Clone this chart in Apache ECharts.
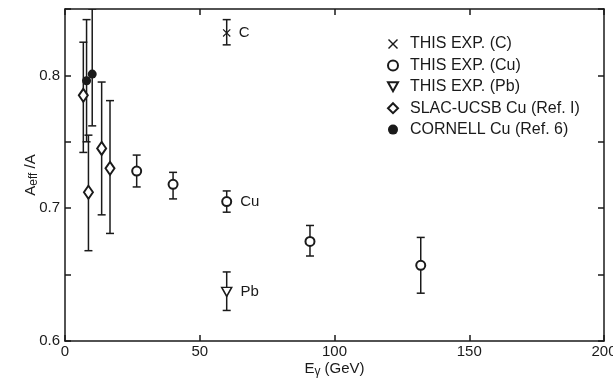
<!DOCTYPE html>
<html>
<head>
<meta charset="utf-8">
<script src="https://cdn.jsdelivr.net/npm/echarts@6/dist/echarts.min.js"></script>
<style>
  html, body { margin: 0; padding: 0; background: #fff; }
  #chart { width: 613px; height: 385px; }
</style>
</head>
<body>
<div id="chart"></div>
<script>
// THIS EXP. (C)
const cX = [60];
const cY = [0.832];
const cLo = [0.823];
const cHi = [0.842];

// THIS EXP. (Cu)
const cuX = [26.6, 40.1, 60, 90.9, 132];
const cuY = [0.728, 0.718, 0.705, 0.675, 0.657];
const cuLo = [0.716, 0.707, 0.697, 0.664, 0.636];
const cuHi = [0.740, 0.727, 0.713, 0.687, 0.678];

// THIS EXP. (Pb)
const pbX = [60];
const pbY = [0.637];
const pbLo = [0.623];
const pbHi = [0.652];

// SLAC-UCSB Cu (Ref. 1)
const slacX = [6.8, 8.7, 13.6, 16.7];
const slacY = [0.785, 0.712, 0.745, 0.730];
const slacLo = [0.742, 0.668, 0.695, 0.681];
const slacHi = [0.825, 0.755, 0.795, 0.781];

// CORNELL Cu (Ref. 6)
const cornX = [8.0, 10.1];
const cornY = [0.796, 0.801];
const cornLo = [0.750, 0.762];
const cornHi = [0.842, 0.850];

const xTicks = [0, 50, 100, 150, 200];
const yTicks = [0.6, 0.7, 0.8];

const font = '"Liberation Sans", Arial, sans-serif';
const ink = '#1a1a1a';

function pts(xs, ys) { return xs.map((x, i) => [x, ys[i]]); }
function bars(xs, lo, hi) { return xs.map((x, i) => [x, lo[i], hi[i]]); }

const errData = [].concat(
  bars(cX, cLo, cHi), bars(cuX, cuLo, cuHi), bars(pbX, pbLo, pbHi),
  bars(slacX, slacLo, slacHi), bars(cornX, cornLo, cornHi)
);

function renderErr(params, api) {
  const x = api.value(0);
  const a = api.coord([x, api.value(1)]);
  const b = api.coord([x, api.value(2)]);
  const w = 4;
  const st = { stroke: ink, lineWidth: 1.5 };
  return {
    type: 'group',
    children: [
      { type: 'line', shape: { x1: a[0], y1: a[1], x2: b[0], y2: b[1] }, style: st },
      { type: 'line', shape: { x1: a[0] - w, y1: a[1], x2: a[0] + w, y2: a[1] }, style: st },
      { type: 'line', shape: { x1: b[0] - w, y1: b[1], x2: b[0] + w, y2: b[1] }, style: st }
    ]
  };
}

const labelStyle = { show: true, position: 'right', distance: 8, color: ink, fontSize: 15, fontFamily: font };

const crossPath = 'path://M0,1L1,0L5,4L9,0L10,1L6,5L10,9L9,10L5,6L1,10L0,9L4,5Z';
const triPath = 'path://M0,0L10,0L5,9Z';

const cData = pts(cX, cY).map(v => ({ value: v, label: Object.assign({}, labelStyle, { formatter: 'C' }) }));
const cuData = pts(cuX, cuY).map((v, i) => i === 2
  ? { value: v, label: Object.assign({}, labelStyle, { formatter: 'Cu' }) } : v);
const pbData = pts(pbX, pbY).map(v => ({ value: v, label: Object.assign({}, labelStyle, { formatter: 'Pb' }) }));

function axisBits() {
  return {
    axisLine: { show: true, onZero: false, lineStyle: { color: ink, width: 1.5 } },
    axisTick: { show: true, inside: true, length: 6, lineStyle: { color: ink, width: 1.5 } },
    splitLine: { show: false }
  };
}

const chart = echarts.init(document.getElementById('chart'));
chart.setOption({
  animation: false,
  backgroundColor: '#fff',
  grid: { left: 65, right: 9, top: 9, bottom: 44, outerBoundsMode: 'none', containLabel: false },
  legend: {
    orient: 'vertical',
    left: 387,
    top: 36,
    padding: 0,
    itemWidth: 10,
    itemHeight: 10,
    itemGap: 5.4,
    textStyle: { color: ink, fontSize: 16, fontFamily: font, padding: [0, 0, 0, 7] },
    data: ['THIS EXP. (C)', 'THIS EXP. (Cu)', 'THIS EXP. (Pb)', 'SLAC-UCSB Cu (Ref. I)', 'CORNELL Cu (Ref. 6)']
  },
  xAxis: [
    Object.assign(axisBits(), {
      type: 'value', min: 0, max: 200, interval: 50, position: 'bottom',
      name: '{a|E}{s|γ}{a| (GeV)}', nameLocation: 'middle', nameGap: 19, nameMoveOverlap: false,
      nameTextStyle: {
        rich: {
          a: { fontSize: 15, fontFamily: font, color: ink },
          s: { fontSize: 12, fontFamily: font, color: ink, padding: [6, 0, 0, 0] }
        }
      },
      axisLabel: {
        color: ink, fontSize: 15, fontFamily: font, margin: 3,
        formatter: v => xTicks.indexOf(v) >= 0 ? String(v) : ''
      }
    }),
    Object.assign(axisBits(), {
      type: 'value', min: 0, max: 200, interval: 50, position: 'top',
      axisLabel: { show: false }
    })
  ],
  yAxis: [
    Object.assign(axisBits(), {
      type: 'value', min: 0.6, max: 0.85, interval: 0.05, position: 'left',
      name: '{a|A}{s|eff}{a| /A}', nameLocation: 'middle', nameGap: 25, nameRotate: 90,
      nameMoveOverlap: false,
      nameTextStyle: {
        rich: {
          a: { fontSize: 15, fontFamily: font, color: ink },
          s: { fontSize: 12, fontFamily: font, color: ink, padding: [6, 0, 0, 0] }
        }
      },
      axisLabel: {
        color: ink, fontSize: 15, fontFamily: font, margin: 5,
        formatter: v => {
          const r = Math.round(v * 100) / 100;
          return yTicks.some(t => Math.abs(t - r) < 1e-6) ? r.toFixed(1) : '';
        }
      }
    }),
    Object.assign(axisBits(), {
      type: 'value', min: 0.6, max: 0.85, interval: 0.05, position: 'right',
      axisLabel: { show: false }
    })
  ],
  series: [
    {
      type: 'custom', name: 'err', renderItem: renderErr, data: errData,
      clip: true, z: 1, encode: { x: 0, y: [1, 2] }
    },
    {
      type: 'scatter', name: 'THIS EXP. (C)', data: cData, z: 3,
      symbol: crossPath, symbolSize: 8, itemStyle: { color: ink, opacity: 1 }
    },
    {
      type: 'scatter', name: 'THIS EXP. (Cu)', data: cuData, z: 3,
      symbol: 'emptyCircle', symbolSize: 9,
      itemStyle: { color: ink, borderWidth: 1.5, opacity: 1 }
    },
    {
      type: 'scatter', name: 'THIS EXP. (Pb)', data: pbData, z: 3,
      symbol: triPath, symbolSize: [10, 9],
      itemStyle: { color: '#fff', borderColor: ink, borderWidth: 1.5, opacity: 1 }
    },
    {
      type: 'scatter', name: 'SLAC-UCSB Cu (Ref. I)', data: pts(slacX, slacY), z: 3,
      symbol: 'emptyDiamond', symbolSize: [9, 13],
      itemStyle: { color: ink, borderWidth: 1.5, opacity: 1 }
    },
    {
      type: 'scatter', name: 'CORNELL Cu (Ref. 6)', data: pts(cornX, cornY), z: 4,
      symbol: 'circle', symbolSize: 9, itemStyle: { color: ink, opacity: 1 }
    }
  ]
});
</script>
</body>
</html>
